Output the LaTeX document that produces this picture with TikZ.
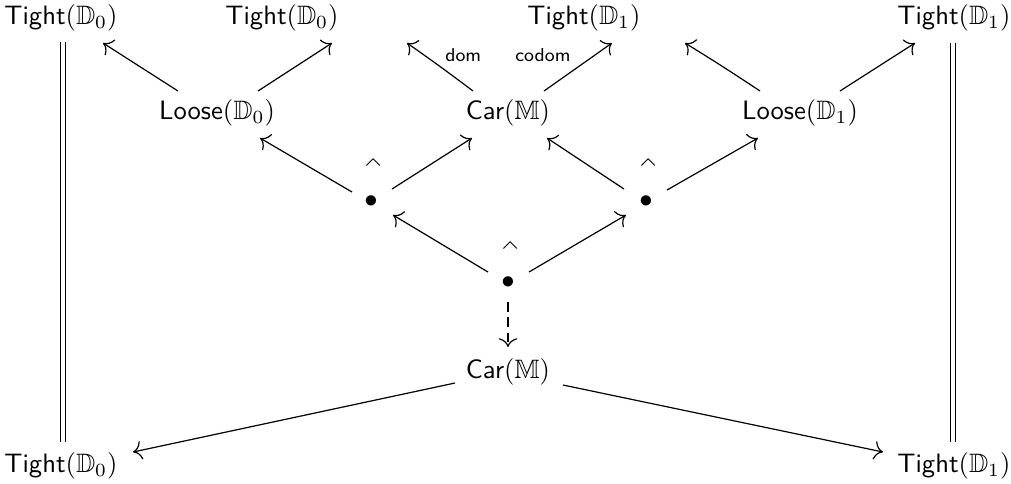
\documentclass[tikz,border=0pt]{standalone}
\usepackage{amsmath}
\usepackage{amssymb}
\usepackage{tikz}
\usetikzlibrary{arrows.meta,calc}

\begin{document}
\begin{tikzpicture}[
  x=0.0132cm,y=-0.0132cm,
  obj/.style={inner xsep=1ex,inner ysep=0.85ex,font=\sffamily},
  pt/.style={inner sep=0pt},
  lbl/.style={font=\sffamily\scriptsize,inner sep=0pt},
  arr/.style={-{Computer Modern Rightarrow[width=7pt,length=3.3pt]},line width=0.45pt},
  eq/.style={double,double distance=1.6pt,line width=0.45pt},
  pb/.style={rotate=-45,inner sep=0pt},
]
\useasboundingbox (0,0) rectangle (1011,483);

% top row
\node [obj] (t0a) at (61,18) {Tight$(\mathbb{D}_0)$};
\node [obj] (t0b) at (282,18) {Tight$(\mathbb{D}_0)$};
\node [obj] (t1a) at (584,18) {Tight$(\mathbb{D}_1)$};
\node [obj] (t1b) at (954,18) {Tight$(\mathbb{D}_1)$};

% second row
\node [obj] (l0) at (217,113) {Loose$(\mathbb{D}_0)$};
\node [obj] (car) at (508,113) {Car$(\mathbb{M})$};
\node [obj] (l1) at (800,113) {Loose$(\mathbb{D}_1)$};

% pullbacks
\node [pt] (p0) at (371,202) {$\bullet$};
\node [pt] (p1) at (646,202) {$\bullet$};
\node [pt] (p) at (508,283) {$\bullet$};
\node [pb] (c0) at (371,169) {$\ulcorner$};
\node [pb] (c1) at (646,169) {$\ulcorner$};
\node [pb] (c) at (508,252) {$\ulcorner$};

% bottom
\node [obj] (carb) at (508,372) {Car$(\mathbb{M})$};
\node [obj] (b0) at (61,466) {Tight$(\mathbb{D}_0)$};
\node [obj] (b1) at (954,466) {Tight$(\mathbb{D}_1)$};

% arrows, ends offset from the node centres
\draw [arr] ($(car)+(-35,-22)$) to[bend right=1] node [lbl,shift={(23,-12)}] {dom} ($(t0b)+(125,25)$);
\draw [arr] ($(l1)+(-40,-22)$) to[bend right=1] ($(t1a)+(101,25)$);
\draw [arr] ($(l0)+(-39,-22)$) -- ($(t0a)+(42,25)$);
\draw [arr] ($(l0)+(41,-22)$) -- ($(t0b)+(50,25)$);
\draw [arr] ($(car)+(36,-22)$) -- node [lbl,shift={(-35,-12)}] {codom} ($(t1a)+(28,25)$);
\draw [arr] ($(l1)+(40,-22)$) -- ($(t1b)+(-39,25)$);
\draw [arr] ($(p0)+(-19,-10)$) -- ($(l0)+(43,25)$);
\draw [arr] ($(p0)+(21,-13)$) -- ($(car)+(-36,25)$);
\draw [arr] ($(p1)+(-22,-13)$) -- ($(car)+(39,25)$);
\draw [arr] ($(p1)+(21,-12)$) -- ($(l1)+(-42,25)$);
\draw [arr] ($(p)+(-20,-11)$) -- ($(p0)+(22,13)$);
\draw [arr] ($(p)+(21,-11)$) -- ($(p1)+(-20,13)$);
\draw [arr,dash pattern=on 3.6pt off 2.2pt] ($(p)+(0,19)$) -- ($(carb)+(0,-25)$);
\draw [arr] ($(carb)+(-53,11)$) -- ($(b0)+(72,-14)$);
\draw [arr] ($(carb)+(55,13)$) -- ($(b1)+(-71,-14)$);
\draw [eq] ($(t0a)+(2,24)$) -- ($(b0)+(2,-24)$);
\draw [eq] ($(t1b)+(-1,25)$) -- ($(b1)+(-1,-24)$);
\end{tikzpicture}
\end{document}
